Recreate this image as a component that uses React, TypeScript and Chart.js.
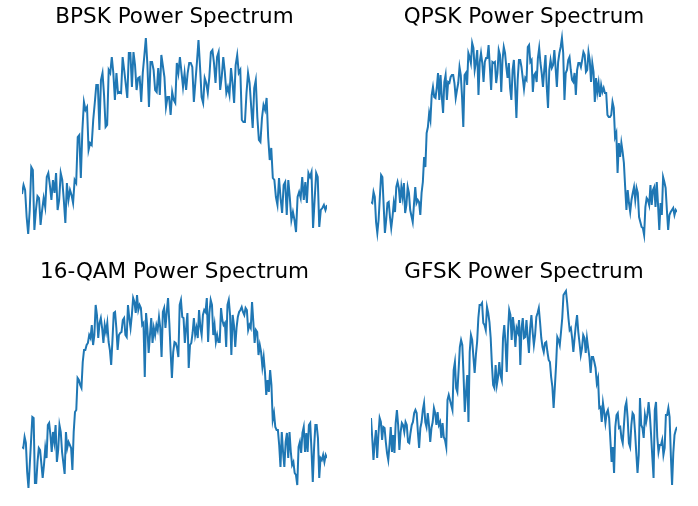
import React, { useEffect, useRef } from "react";
import { Chart, registerables } from "chart.js";

Chart.register(...registerables);

// Relative power levels (arbitrary units, higher = more power)
const bpsk: number[] = [
  49, 58, 53, 26, 9, 33, 76, 73, 13, 33, 47, 45, 18, 33, 45, 36, 66, 70, 58, 43, 63, 50, 70, 33, 43, 70, 63, 43, 20, 60,
  43, 53, 48, 40, 63, 60,
  106, 108, 65, 113, 141, 133, 136, 93, 100, 98, 123, 140, 158, 158, 113, 163, 170, 148, 116, 118, 173, 170, 186, 170,
  143, 170, 150, 151, 150, 186, 173, 159, 145, 190, 190, 156, 191, 178, 153, 165, 166, 141, 170, 187, 205, 178, 136, 181,
  181, 173, 153, 151, 175, 148, 188, 177, 166, 136, 146, 146,
  128, 151, 143, 140, 180, 170, 186, 171, 156, 170, 153, 170, 180, 180, 176, 141, 161, 181, 203, 176, 146, 140, 165, 160,
  150, 166, 191, 193, 180, 160, 186, 191, 153, 166, 186, 171, 150, 156, 148, 175, 160, 140, 178, 188, 170, 173, 123, 121,
  121, 150, 170, 160, 137, 115, 155, 163, 126, 103, 101, 125, 138, 133, 145, 106, 83, 95, 65, 63, 46, 38, 65, 45, 30, 58,
  61, 28, 63, 45, 23, 31, 23, 11, 46, 51, 45, 66, 43, 61, 40, 70, 66, 71, 15, 43, 70, 66, 16, 33, 35, 38, 33, 38,
];

const qpsk: number[] = [
  41, 40, 51, 46, 21, 10, 23, 46, 68, 66, 38, 10, 23, 40, 41, 26, 15, 26, 40, 31, 56, 61, 55, 40, 56, 46, 60, 30, 38, 56,
  50, 33, 27, 21, 39, 56, 40, 43, 41, 28, 50, 61, 86, 76, 110, 116, 130, 123, 148, 156, 146, 145, 155, 170, 143, 168, 146,
  130, 161, 168, 143, 161, 160, 166, 168, 168, 160, 145, 153, 160, 176, 168, 146, 116, 168, 170, 158, 190, 186, 180, 200,
  195, 173, 181, 193, 148, 181, 190, 180, 161, 181, 185, 185, 198, 176, 153, 181, 180, 181, 160, 170, 193, 188, 151, 183,
  196, 190, 176, 165, 180, 155, 143, 173, 183, 156, 125, 163, 183, 183, 176, 165,
  154, 165, 163, 196, 198, 181, 183, 151, 168, 170, 161, 185, 195, 180, 170, 156, 173, 188, 156, 135, 173, 183, 175, 178,
  193, 175, 156, 181, 190, 196, 205, 190, 143, 170, 173, 183, 186, 173, 163, 161, 170, 148, 173, 180, 180, 176, 183, 191,
  188, 171, 173, 191, 183, 161, 180, 171, 141, 165, 151, 160, 146, 158, 151, 155, 150, 150, 128, 126, 126, 128, 141, 135,
  106, 110, 70, 100, 86, 100, 91, 80, 56, 33, 53, 40, 31, 43, 50, 56, 43, 55, 50, 26, 21, 16, 15, 8, 36, 45,
  43, 38, 58, 38, 53, 56, 36, 61, 38, 13, 40, 28, 66, 61, 55, 33, 13, 28, 31, 33, 35, 28, 33, 31,
];

const qam16: number[] = [
  51, 50, 61, 55, 26, 10, 33, 57, 81, 80, 15, 15, 36, 50, 48, 34, 20, 33, 50, 40, 73, 75, 63, 46, 66, 56, 73, 36, 48, 73,
  66, 46, 35, 24, 66, 50, 56, 53, 50, 28, 66, 86, 88, 120, 118, 113, 110, 136, 148, 148, 153, 155, 163, 160, 173, 153,
  163, 193, 183, 160, 175, 180, 170, 155, 173, 166, 175, 156, 148, 133, 158, 185, 186, 170, 148, 163, 165, 166, 178, 180,
  163, 161, 193, 180, 170, 183, 200, 196, 185, 203, 188, 193, 190, 173, 175, 121, 185, 170, 145, 163, 180, 155, 170, 163,
  173, 168, 181, 170, 141, 186, 190, 170, 186, 200, 175, 146, 120, 146,
  156, 155, 150, 141, 193, 198, 181, 180, 155, 170, 185, 130, 153, 155, 165, 180, 163, 170, 160, 188, 171, 163, 183, 188,
  186, 200, 156, 185, 198, 193, 163, 173, 156, 163, 156, 156, 190, 178, 173, 175, 151, 193, 198, 183, 143, 183, 173, 151,
  170, 181, 186, 188, 191, 186, 183, 190, 188, 168, 173, 170, 196, 176, 155, 168, 166, 143, 153, 146, 131, 141, 126, 103,
  118, 106, 128, 113, 78, 85, 71, 68, 68, 53, 31, 66, 46, 31, 56, 65, 40, 66, 46, 33, 36, 25, 23, 13, 51, 56, 45, 65, 71,
  46, 65, 46, 73, 75, 48, 16, 50, 73, 73, 60, 20, 40, 38, 43, 36, 43, 40,
];

const gfsk: number[] = [
  80, 60, 38, 56, 68, 40, 63, 80, 76, 58, 71, 70, 56, 45, 38, 53, 71, 46, 63, 45, 75, 88, 73, 48, 66, 75, 73, 66, 76, 73,
  56, 55, 65, 73, 76, 85, 88, 85, 66, 50, 70, 76, 88, 95, 76, 71, 85, 73, 56, 70, 76, 90, 85, 73, 86, 73, 76, 60,
  75, 61, 58, 51, 98, 103, 98, 93, 88, 128, 136, 110, 106, 128, 151, 158, 153, 123, 86, 106, 123, 76, 146, 163, 158, 141,
  125, 143, 156, 180, 193, 193, 195, 175, 173, 168, 191, 185, 176, 160, 133, 113, 110, 133, 113, 121, 136, 123,
  118, 160, 173, 155, 126, 166, 188, 183, 158, 181, 170, 151, 170, 166, 178, 133, 170, 180, 160,
  161, 178, 160, 145, 170, 183, 166, 153, 163, 181, 185, 190, 176, 160, 151, 146, 155, 156, 146, 138, 136, 121, 111, 90,
  111, 133, 161, 158, 153, 166, 180, 203, 205, 207, 195, 180, 168, 170, 160, 146, 160, 173, 183, 166, 155, 143, 150, 163,
  160, 145, 160, 150, 141, 125, 141, 141, 136, 130, 115, 120, 90, 91, 76, 95, 86, 75, 85, 88, 80, 58, 36, 51, 25, 71, 83,
  85, 70, 71, 60, 55, 73, 91, 96, 80, 55, 51, 73, 85, 83, 66, 45, 25, 43, 100, 73, 70, 60, 83, 76, 83, 96, 83, 63, 41, 20,
  88, 96, 61, 46, 53, 53, 58, 43, 50, 83, 83, 90, 81, 43, 13, 45, 63, 68, 71,
];

const titles: string[] = ["BPSK Power Spectrum", "QPSK Power Spectrum", "16-QAM Power Spectrum", "GFSK Power Spectrum"];
const seriesList: number[][] = [bpsk, qpsk, qam16, gfsk];

const Y_MIN = 0;
const Y_MAX = 215;

type PanelProps = { title: string; values: number[]; left: number; top: number; width: number; height: number };

function Panel({ title, values, left, top, width, height }: PanelProps) {
  const ref = useRef<HTMLCanvasElement>(null);
  useEffect(() => {
    if (!ref.current) return;
    const chart = new Chart(ref.current, {
      type: "line",
      data: {
        labels: values.map((_, i) => String(i)),
        datasets: [
          {
            data: values,
            borderColor: "#1f77b4",
            backgroundColor: "#1f77b4",
            borderWidth: 2,
            pointRadius: 0,
            tension: 0,
            fill: false,
          },
        ],
      },
      options: {
        animation: false,
        responsive: false,
        maintainAspectRatio: false,
        layout: { padding: 0 },
        scales: {
          x: { display: false, offset: false },
          y: { display: false, min: Y_MIN, max: Y_MAX },
        },
        plugins: {
          legend: { display: false },
          tooltip: { enabled: false },
          title: {
            display: true,
            text: title,
            color: "#000000",
            font: { family: "'DejaVu Sans', sans-serif", size: 21.5, weight: "normal", lineHeight: 1.0 },
            padding: { top: 6.5, bottom: 0 },
          },
        },
      },
    });
    return () => chart.destroy();
  }, [title, values]);
  return (
    <canvas
      ref={ref}
      width={width}
      height={height}
      style={{ position: "absolute", left, top, width, height }}
    />
  );
}

export default function App() {
  const lefts = [22, 371, 22, 371];
  const tops = [0, 0, 255, 255];
  const widths = [305, 306, 305, 306];
  return (
    <div style={{ position: "fixed", left: 0, top: 0, width: 698, height: 506, background: "#ffffff", overflow: "hidden" }}>
      {seriesList.map((vals, i) => (
        <Panel key={i} title={titles[i]} values={vals} left={lefts[i]} top={tops[i]} width={widths[i]} height={243} />
      ))}
    </div>
  );
}
